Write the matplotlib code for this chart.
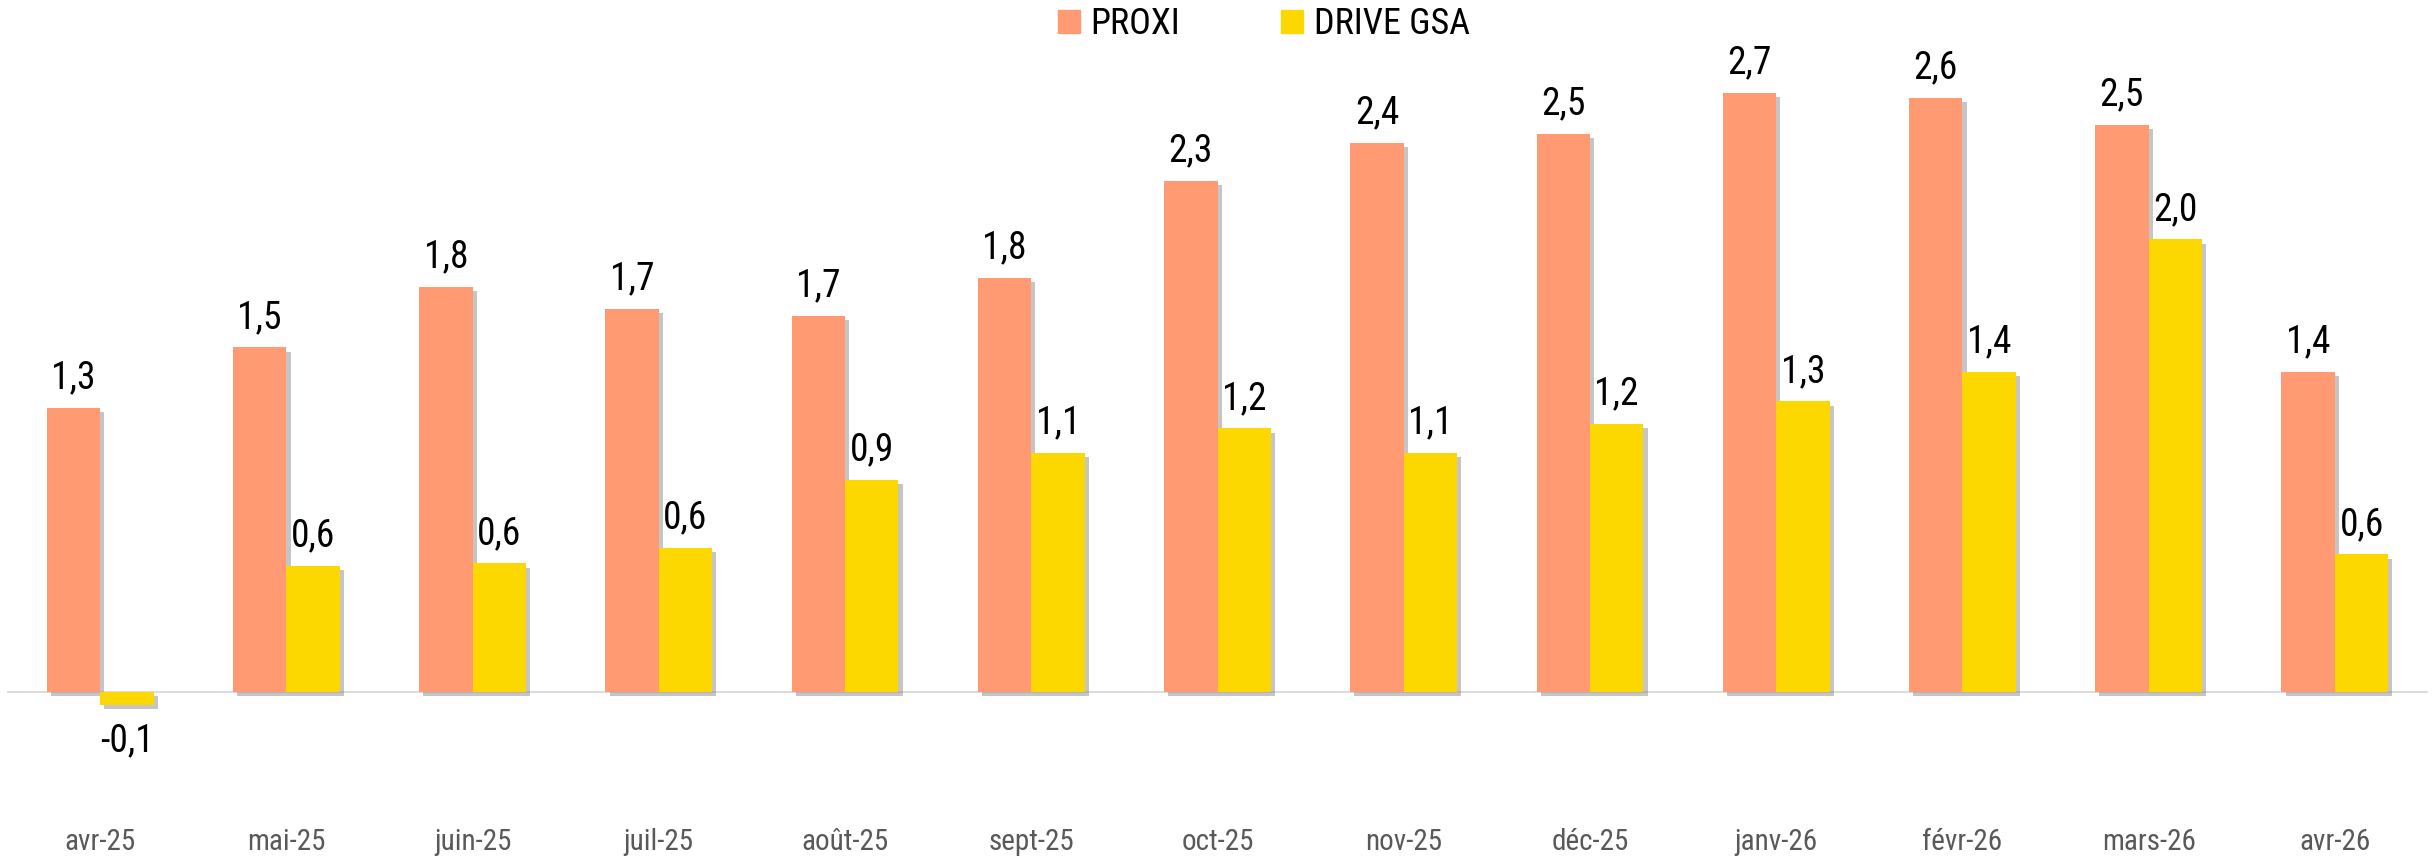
import matplotlib
matplotlib.use("Agg")
import matplotlib.pyplot as plt
import matplotlib.patheffects as pe
from matplotlib import font_manager
from matplotlib.patches import Patch
import numpy as np

months = ["avr-25", "mai-25", "juin-25", "juil-25", "août-25", "sept-25", "oct-25",
          "nov-25", "déc-25", "janv-26", "févr-26", "mars-26", "avr-26"]
proxi = [1.26, 1.53, 1.80, 1.70, 1.67, 1.84, 2.27, 2.44, 2.48, 2.66, 2.64, 2.52, 1.42]
drive_gsa = [-0.06, 0.56, 0.57, 0.64, 0.94, 1.06, 1.17, 1.06, 1.19, 1.29, 1.42, 2.01, 0.61]

# pick a narrow font if one is around
names = {f.name for f in font_manager.fontManager.ttflist}
font = "Roboto"
for cand in ["Roboto Condensed", "Liberation Sans Narrow", "Roboto"]:
    if cand in names:
        font = cand
        break
plt.rcParams["font.family"] = [font, "DejaVu Sans"]
plt.rcParams["font.stretch"] = "condensed"

c_proxi = "#FF9A72"
c_drive = "#FDD800"

W, H = 2433, 856
fig = plt.figure(figsize=(W / 100, H / 100), dpi=100)
left, right = 7 / W, 2428 / W
ax = fig.add_axes([left, 0, right - left, 1])

base = 691.7
k = 225.0
ax.set_ylim(-(H - base) / k, base / k)
ax.set_xlim(-0.5, len(months) - 0.5)

x = np.arange(len(months))
w = 0.287
shadow = [pe.SimplePatchShadow(offset=(3, -3), shadow_rgbFace="#808080", alpha=0.45), pe.Normal()]
b1 = ax.bar(x - w / 2, proxi, w, color=c_proxi, zorder=3)
b2 = ax.bar(x + w / 2, drive_gsa, w, color=c_drive, zorder=3)
for b in list(b1) + list(b2):
    b.set_path_effects(shadow)

ax.axhline(0, color="#d9d9d9", lw=1.3, zorder=2)

def fmt(v):
    return f"{v:.1f}".replace(".", ",")

for xs, vals in [(x - w / 2, proxi), (x + w / 2, drive_gsa)]:
    for xi, v in zip(xs, vals):
        if v >= 0:
            ax.annotate(fmt(v), (xi, v), xytext=(0, 14), textcoords="offset points",
                        ha="center", va="baseline", fontsize=27, color="black")
        else:
            ax.annotate(fmt(v), (xi, v), xytext=(0, -12), textcoords="offset points",
                        ha="center", va="top", fontsize=27, color="black")

for xi, m in zip(x, months):
    ax.text(xi, 6 / H, m, transform=ax.get_xaxis_transform(), ha="center",
            va="baseline", fontsize=21, color="#595959")

for s in ax.spines.values():
    s.set_visible(False)
ax.set_xticks([])
ax.set_yticks([])

handles = [Patch(color=c_proxi, label="PROXI"), Patch(color=c_drive, label="DRIVE GSA")]
fig.legend(handles=handles, loc="center", bbox_to_anchor=(1264 / W, 1 - 24 / H), ncol=2,
           frameon=False, fontsize=26, handlelength=0.6, handleheight=0.6,
           handletextpad=0.3, columnspacing=2.8)

fig.savefig("out.png", dpi=100)
